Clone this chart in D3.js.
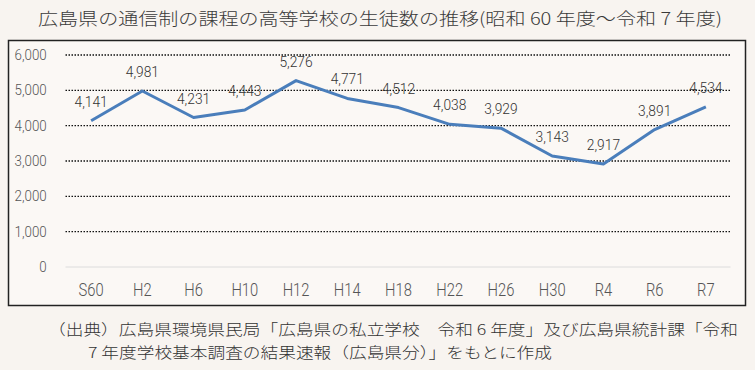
<!DOCTYPE html>
<html>
<head>
<meta charset="utf-8">
<script src="https://cdn.jsdelivr.net/npm/d3@7"></script>
<style>
  body { margin: 0; background: #f8f4f0; }
  svg { display: block; }
</style>
</head>
<body>
<svg id="chart" width="755" height="370"></svg>
<script>
// data
const years = ["S60", "H2", "H6", "H10", "H12", "H14", "H18", "H22", "H26", "H30", "R4", "R6", "R7"];
const students = [4141, 4981, 4231, 4443, 5276, 4771, 4512, 4038, 3929, 3143, 2917, 3891, 4534];
const yTicks = [0, 1000, 2000, 3000, 4000, 5000, 6000];

const titleText = "広島県の通信制の課程の高等学校の生徒数の推移(昭和 60 年度～令和 7 年度)";
const sourceLines = [
  "（出典）広島県環境県民局「広島県の私立学校　令和 6 年度」及び広島県統計課「令和",
  "7 年度学校基本調査の結果速報（広島県分）」をもとに作成"
];

const svg = d3.select("#chart");
const num = "'Roboto', sans-serif";
const jp = "'Noto Sans CJK JP', sans-serif";

// page background
svg.append("rect").attr("width", 755).attr("height", 370).attr("fill", "#f8f4f0");

// title
svg.append("text")
  .attr("x", 38).attr("y", 25)
  .attr("textLength", 684).attr("lengthAdjust", "spacingAndGlyphs")
  .style("font-family", jp).style("font-size", "17px").style("font-weight", 300)
  .attr("fill", "#3a3a3a")
  .text(titleText);

// chart box
svg.append("rect")
  .attr("x", 8.5).attr("y", 40.5).attr("width", 737).attr("height", 265)
  .attr("fill", "#fbf8f5").attr("stroke", "#222").attr("stroke-width", 1.5);

const margin = { left: 65.5, right: 731.5, top: 55, bottom: 267 };

const x = d3.scaleBand().domain(years).range([margin.left, margin.right]);
const y = d3.scaleLinear().domain([0, 6000]).range([margin.bottom, margin.top]);

// gridlines
const grid = svg.append("g");
grid.selectAll("line").data(yTicks).enter().append("line")
  .attr("x1", margin.left).attr("x2", margin.right - 1)
  .attr("y1", d => y(d)).attr("y2", d => y(d))
  .attr("stroke", d => d === 0 ? "#dcdcdc" : "#111")
  .attr("stroke-width", d => d === 0 ? 1 : 1.3)
  .attr("stroke-dasharray", d => d === 0 ? null : "1.5,1.5");

// y axis labels
const yAxis = svg.append("g")
  .attr("transform", `translate(${margin.left - 16},0)`)
  .call(d3.axisLeft(y).tickValues(yTicks).tickSize(0).tickFormat(d3.format(",")));
yAxis.select(".domain").remove();
yAxis.selectAll("text")
  .attr("transform", "scale(0.92,1)")
  .style("font-family", num).style("font-size", "14.5px").style("font-weight", 300)
  .attr("fill", "#555");

// x axis labels (condensed look)
const xAxis = svg.append("g")
  .attr("transform", `translate(0,${margin.bottom + 13})`)
  .call(d3.axisBottom(x).tickSize(0));
xAxis.select(".domain").remove();
xAxis.selectAll("text")
  .attr("transform", "scale(0.82,1)")
  .style("font-family", num).style("font-size", "18px").style("font-weight", 300)
  .attr("fill", "#555");

// line
const line = d3.line()
  .x((d, i) => x(years[i]) + x.bandwidth() / 2)
  .y(d => y(d));

svg.append("path")
  .datum(students)
  .attr("d", line)
  .attr("fill", "none")
  .attr("stroke", "#4a7ebb")
  .attr("stroke-width", 3)
  .attr("stroke-linejoin", "round");

// data labels
svg.append("g").selectAll("text").data(students).enter().append("text")
  .attr("transform", (d, i) => `translate(${x(years[i]) + x.bandwidth() / 2},${y(d) - 14}) scale(0.92,1)`)
  .attr("text-anchor", "middle")
  .style("font-family", num).style("font-size", "15px").style("font-weight", 300)
  .attr("fill", "#333")
  .text(d => d3.format(",")(d));

// source note
svg.append("g").selectAll("text").data(sourceLines).enter().append("text")
  .attr("x", (d, i) => i === 0 ? 48 : 88)
  .attr("y", (d, i) => 335 + i * 23)
  .attr("textLength", (d, i) => i === 0 ? 690 : 464)
  .attr("lengthAdjust", "spacingAndGlyphs")
  .style("font-family", jp).style("font-size", "15px").style("font-weight", 300)
  .attr("fill", "#333")
  .text(d => d);
</script>
</body>
</html>
